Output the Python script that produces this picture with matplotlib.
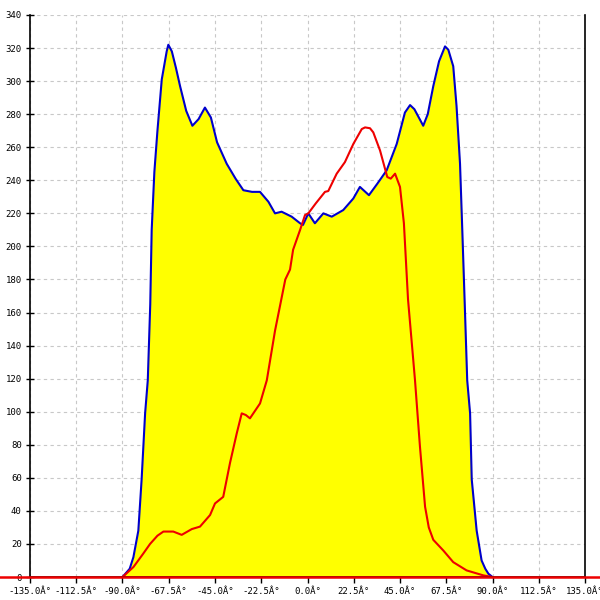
import matplotlib
matplotlib.use("Agg")
import matplotlib.pyplot as plt

# envelope curve (filled yellow, blue outline)
blue_deg = [-90, -86.5, -84.7, -82.3, -80.7, -79, -77.7, -76.5, -75.8, -74.5, -73, -70.9, -68.5,
            -67.7, -66, -64, -62, -59, -56, -53, -49.9, -47, -44, -39.3, -35, -31.2, -27,
            -23.1, -19, -15.8, -12.6, -7.7, -3.6, -2.2, 0.4, 3.6, 7.7, 11.8, 17.4, 22.3,
            25.5, 29.9, 34, 38.5, 43.4, 47.4, 49.9, 52, 56.3, 58.5, 61.2, 64, 66.9, 68.5,
            70.9, 72.5, 74.2, 75.3, 76.5, 77.7, 79.1, 79.9, 82.3, 84.7, 86.5, 88, 90]
blue_val = [0, 5, 12, 28, 59, 99, 119, 165, 210, 245, 270, 301, 318,
            322, 318, 308, 297, 282, 273, 277, 284, 278, 263, 250, 241, 234, 233,
            233, 227, 220, 221, 218, 214, 213, 220, 214, 220, 218, 222, 229,
            236, 231, 238, 246, 262, 281, 285.5, 283, 273, 280, 297, 312, 321, 319,
            309, 285, 250, 210, 165, 119, 99, 59, 28, 10, 5, 2, 0]

# second curve (red)
red_deg = [-90, -84.7, -80, -76.6, -73, -70.1, -65.3, -61.2, -56.3, -52.3, -47.4, -45, -41,
           -37.7, -34.4, -32, -30, -28, -23.1, -19.8, -15.8, -10.8, -8.5, -7, -3.6, -1.2,
           0.4, 4, 8.5, 10.1, 14.2, 18.2, 22.3, 26.4, 28, 30.4, 32, 35.3, 38.8, 40.5, 42.6,
           45, 46.9, 48.9, 52.3, 54.7, 57.2, 59, 61.2, 66.1, 70.9, 77.4, 85.5, 90]
red_val = [0, 6, 14, 20, 25, 27.5, 27.5, 25.5, 29, 30.5, 37.5, 44.5, 48.5,
           69, 87, 99, 98, 96, 105, 119, 149, 180, 186, 198, 210, 219,
           220, 226, 233, 233.5, 244, 251, 262, 271, 272, 271.5, 269, 258, 242, 241, 244,
           236, 214, 168, 119, 79, 42.5, 30, 22.5, 16, 9, 4, 1, 0]

x_ticks = [-135, -112.5, -90, -67.5, -45, -22.5, 0, 22.5, 45, 67.5, 90, 112.5, 135]
x_labels = ["%.1fÂ°" % t for t in x_ticks]
y_ticks = list(range(0, 341, 20))

fig = plt.figure(figsize=(6, 6), dpi=100)
ax = fig.add_axes([0.05, 0.0383, 0.925, 0.9367])

ax.fill_between(blue_deg, blue_val, 0, color="#FFFF00", linewidth=0, zorder=2)
ax.plot(blue_deg, blue_val, color="#0000CC", linewidth=1.5, zorder=3)
ax.plot(red_deg, red_val, color="#EE0000", linewidth=1.5, zorder=4)
ax.axhline(0, xmin=-0.055, xmax=1.03, color="#EE0000", linewidth=1.8,
           clip_on=False, zorder=6)

ax.set_xlim(-135, 135)
ax.set_ylim(0, 340)
ax.set_xticks(x_ticks)
ax.set_xticklabels(x_labels)
ax.set_yticks(y_ticks)

ax.grid(True, color="#C8C8C8", linestyle=(0, (3, 3)), linewidth=0.8, zorder=1)
ax.set_axisbelow(True)

for s in ("left", "right", "bottom"):
    ax.spines[s].set_color("black")
    ax.spines[s].set_linewidth(1.2)
    ax.spines[s].set_zorder(5)
ax.spines["top"].set_visible(False)

ax.tick_params(axis="y", direction="inout", length=6, width=1, pad=3,
               labelsize=6.5)
ax.tick_params(axis="x", direction="out", length=4.5, width=1, pad=3,
               labelsize=6.5)
for lab in ax.get_xticklabels() + ax.get_yticklabels():
    lab.set_family("DejaVu Sans Mono")

fig.savefig("out.png", dpi=100)
